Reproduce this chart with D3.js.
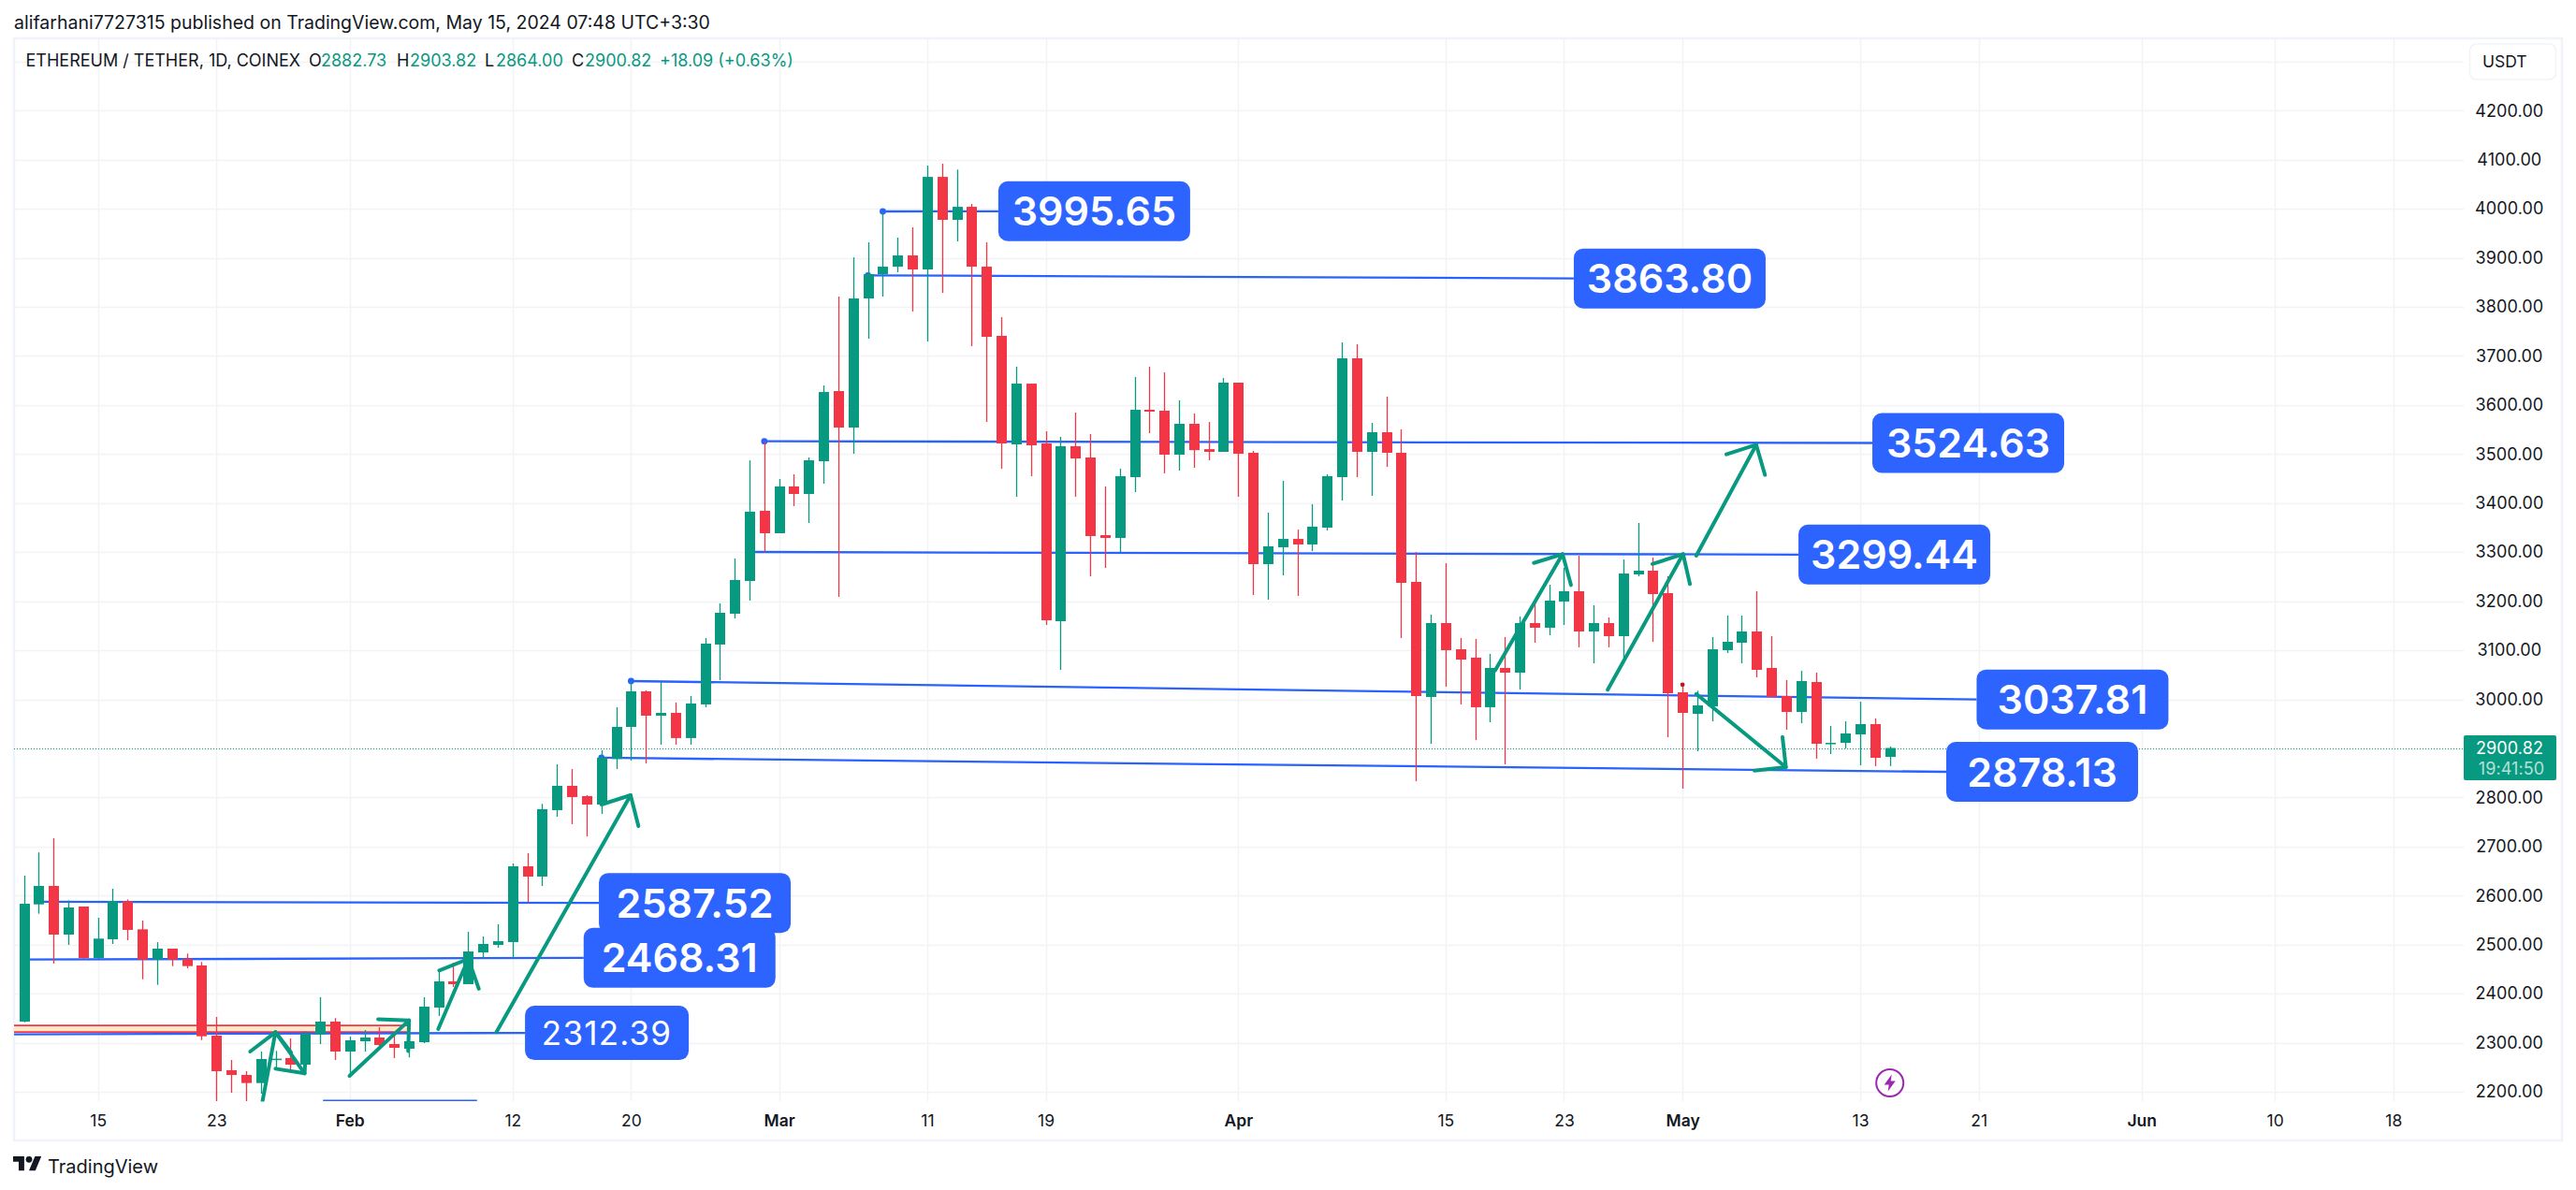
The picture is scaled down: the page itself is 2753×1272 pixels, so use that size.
<!DOCTYPE html>
<html>
<head>
<meta charset="utf-8">
<script src="https://cdn.jsdelivr.net/npm/d3@7/dist/d3.min.js"></script>
<style>
  html, body { margin: 0; padding: 0; background: #fff; }
  svg { display: block; }
  text { font-family: Inter, "Noto Sans", sans-serif; }
</style>
</head>
<body>
<div id="chart"></div>
<script>
// daily candles, first one is Jan 10 2024
const firstDay = '2024-01-10';
const opens = [2343,2582,2619.6,2520.4,2577.6,2472.7,2510.9,2588.4,2531.2,2469.6,2491.8,2470.8,2457.5,2314.4,2244,2234.3,2217.8,2266.5,2268.7,2255.3,2317,2343,2282,2303,2310.6,2297.3,2287.7,2301,2371.6,2425,2419.3,2484,2499.4,2505.2,2659.6,2638.7,2774,2823.7,2802.7,2785.5,2878.4,2943.8,3016.3,2966.7,2972.4,2921,2989.6,3111.7,3174.6,3241.3,3384.4,3338.6,3434,3418.6,3485.3,3628.4,3554,3817.2,3866.8,3882,3904.9,3876.3,4065,3977.4,4004,3882,3741,3519.7,3643.6,3521.6,3159.3,3516,3493,3334.7,3329,3453,3590.3,3588.4,3498.8,3561.7,3510,3504.5,3645.6,3502.6,3275.6,3310,3327,3315.7,3350,3453,3695.2,3504.5,3544.5,3502.6,3239.4,3004.8,3155.5,3102,3085,2983.9,3064,3054.4,3155.5,3146,3199.4,3220.3,3138.3,3155.5,3128.8,3254.6,3262.3,3216.5,3014.3,2970.5,2985.7,3100.2,3115.4,3138.3,3063.9,3006.7,2974.3,3035.3,2909.4,2911.3,2928.5,2949.5,2882.73];
const highs = [2640.5,2688,2716.8,2590,2577.6,2554.7,2613.9,2592,2549,2505,2491.8,2482,2464.5,2352.6,2264.8,2242,2282,2283.3,2308.7,2323.3,2392.6,2350,2312.5,2325.9,2331.6,2315,2320,2392.6,2448,2463,2526,2516.6,2541.4,2665.4,2686.3,2787,2867.5,2858,2804.6,2896,2983.9,3037,3018.2,3035.4,2993.4,3006.8,3125,3195.6,3287,3487,3525,3449.2,3458.7,3493,3639.8,3821,3901,3931.6,3994.6,3941,3962,4088,4091.8,4080,4009.8,3931.6,3779,3678,3643.6,3546.4,3535,3584.6,3540.7,3434,3470,3657,3678,3666.6,3609.4,3582.7,3565.5,3655,3645.6,3506.4,3380.5,3445.4,3346,3397.7,3458.7,3727.6,3723.8,3563.6,3617,3550.2,3300.4,3172.6,3277.5,3125,3123,3092.5,3127,3168.8,3197.4,3233.7,3268,3292.8,3191.7,3167,3285,3359.5,3289,3250.8,3033.4,3017.5,3126.9,3170.7,3170.7,3220.3,3128.8,3039.1,3058,3054.4,2945.7,2955.2,2995.3,2961,2903.82];
const lows = [2341.8,2563,2461.3,2499.4,2470.8,2470.8,2501.3,2509,2429.5,2418,2456,2451.8,2305.5,2181,2198,2181,2196,2248,2238.8,2248,2297.3,2265,2232.4,2282,2289.6,2268.7,2270,2299.2,2354.5,2413.6,2419.3,2472.7,2493.7,2472.7,2585.3,2619.6,2760.7,2745.5,2720.7,2766.5,2858,2875.2,2869.5,2907.6,2907.6,2907.6,2983.9,3039.2,3165,3201.3,3300.5,3338.6,3393.9,3359.5,3439.6,3209,3500.6,3735.2,3821,3870.6,3790.5,3729.5,3828.6,3933.5,3720,3565.5,3470,3413,3454.9,3151.7,3060,3413,3250.8,3268,3300.4,3422.5,3542.6,3460.6,3466.3,3472,3487.3,3504.5,3413,3212.7,3203.2,3252.7,3210.8,3302.3,3344.3,3405.3,3453,3414.8,3474,3125,2833,2909.5,3025.8,2989.5,2917,2953.3,2867.5,3020,3115.4,3130.7,3151.7,3106,3073.5,3106,3081,3250.8,3117.3,2922.8,2817.9,2894.2,2955.2,3094.4,3073.5,3044.8,3004.8,2938,2951.4,2879,2888.5,2900,2865.6,2863.7,2864];
const closes = [2583.3,2619.6,2520.4,2575.7,2472.7,2512.2,2588.4,2530,2469.6,2491.8,2469.6,2456.2,2313.2,2242,2234.3,2217.8,2266.8,2267.4,2255.3,2318.2,2343,2282,2304.9,2310.6,2295.4,2289.6,2303,2373.6,2425,2419.3,2486,2501.3,2507,2659.6,2638.7,2776,2823.7,2800.8,2785.5,2880.9,2943.8,3016.3,2966.7,2972.4,2921,2991.5,3113.6,3176.5,3243.3,3382.5,3338.6,3434,3418.7,3487.3,3626.5,3554,3817.2,3866.8,3882,3904.9,3876.3,4065,3977.4,4004,3882,3739,3521.6,3643.6,3517.8,3161.2,3516,3491,3332.8,3329,3454.9,3590.3,3586.5,3498.8,3561.7,3508,3504.5,3645.6,3500.7,3275.6,3311.9,3327,3315.7,3352,3454.9,3695.2,3504.5,3544.5,3502.6,3237.5,3006.7,3155.5,3100.2,3081,2983.9,3064,3054.4,3155.5,3146,3201.3,3220.3,3138.3,3155.5,3128.8,3256.5,3262.3,3214.6,3012.4,2972.4,2987.6,3102,3117.3,3138.3,3060.1,3004.8,2974.3,3037.2,2909.4,2911.3,2930.4,2949.5,2880.8,2900.82];

const priceTicks = [4300,4200,4100,4000,3900,3800,3700,3600,3500,3400,3300,3200,3100,3000,2900,2800,2700,2600,2500,2400,2300,2200];
const timeTicks = ['2024-01-15','2024-01-23','2024-02-01','2024-02-12','2024-02-20','2024-03-01','2024-03-11','2024-03-19','2024-04-01','2024-04-15','2024-04-23','2024-05-01','2024-05-13','2024-05-21','2024-06-01','2024-06-10','2024-06-18'];
const timeTickLabels = ['15','23','Feb','12','20','Mar','11','19','Apr','15','23','May','13','21','Jun','10','18'];

// drawn levels: [start day index, start price, end day index, end price]
const levelNames = ['3995.65','3863.80','3524.63','3299.44','3037.81','2878.13','2587.52','2468.31','2312.39'];
const levelLines = [
  [58,3994.6,65.8,3995],
  [57,3864.3,104.66,3858],
  [50,3526,124.82,3522.6],
  [49.3,3300.4,119.83,3295],
  [41,3037.2,131.86,2999.7],
  [39,2880.9,129.81,2852.2],
  [1,2587.2,38.83,2585],
  [0,2469.5,37.8,2473],
  [-0.66,2317,33.84,2320]
];
const levelDots = [[58,3994.6],[57,3864.3],[50,3526],[41,3037.2],[39,2880.9]];

// arrows: shaft start, tip, wing, wing as [day index, price]
const arrows = [
  [[16.12,2181.6],[16.99,2321.5],[15.28,2282],[18.04,2280]],
  [[16.99,2321.5],[18.96,2237.5],[16.99,2247],[19.02,2277]],
  [[21.99,2232.4],[26.01,2345.6],[23.92,2348],[25.95,2283]],
  [[27.98,2327.8],[30.01,2470.8],[28.05,2447.4],[30.72,2410]],
  [[31.91,2321.5],[40.97,2804.6],[39,2785.5],[41.5,2741.7]],
  [[99.34,3058.8],[103.9,3296],[101.96,3278],[104.47,3233]],
  [[106.95,3019.5],[112.04,3296],[109.97,3276],[112.5,3235]],
  [[112.93,3292.8],[116.98,3518.9],[114.96,3499.3],[117.57,3457.4]],
  [[112.93,3011],[118.98,2861.8],[116.85,2854.8],[118.75,2923.4]]
];

const zonePrices = [2335,2321.8];
const zoneEndDay = 25.9;
const stubLine = [20.2,2182.3,30.6,2182.3];
const redDot = [112,3030];
const lastPrice = 2900.82;

const headerText = 'alifarhani7727315 published on TradingView.com, May 15, 2024 07:48 UTC+3:30';
const legendParts = [
  ['ETHEREUM / TETHER, 1D, COINEX', 27.5, 'ink'],
  ['O', 330, 'ink'], ['2882.73', 343, 'up'],
  ['H', 424, 'ink'], ['2903.82', 438, 'up'],
  ['L', 518, 'ink'], ['2864.00', 530, 'up'],
  ['C', 611, 'ink'], ['2900.82', 625, 'up'],
  ['+18.09 (+0.63%)', 705, 'up']
];

const width = 2753, height = 1272;
const plot = {left: 15, right: 2633, top: 41, bottom: 1177};
const up = '#089981', down = '#f23645', blue = '#2962ff', ink = '#131722', grid = '#f2f3f7', frame = '#f0f3fa';

const dayMs = 864e5;
const t0 = Date.parse(firstDay);
const dayDate = i => new Date(t0 + i * dayMs);

const x = d3.scaleUtc().domain([new Date(firstDay), new Date('2024-06-18')]).range([25.5, 2557.8]);
const y = d3.scaleLinear().domain([2200, 4200]).range([1167, 118.3]);
const xd = i => x(dayDate(i));

const svg = d3.select('#chart').append('svg').attr('width', width).attr('height', height);
svg.append('rect').attr('width', width).attr('height', height).attr('fill', '#fff');

svg.append('defs').append('clipPath').attr('id', 'plot-clip').append('rect')
  .attr('x', plot.left).attr('y', plot.top)
  .attr('width', plot.right - plot.left).attr('height', plot.bottom - plot.top + 0.5);

// outer frame
svg.append('rect')
  .attr('x', 15).attr('y', 41).attr('width', 2723).attr('height', 1178)
  .attr('fill', 'none').attr('stroke', frame).attr('stroke-width', 2.5);

// header
svg.append('text').attr('x', 15).attr('y', 24).attr('dy', '0.36em')
  .attr('font-size', 19.5).attr('fill', ink).text(headerText);

// grid
const gridG = svg.append('g').attr('clip-path', 'url(#plot-clip)');
gridG.selectAll('line.h').data(priceTicks).enter().append('line')
  .attr('class', 'h')
  .attr('x1', plot.left).attr('x2', plot.right)
  .attr('y1', d => Math.round(y(d)) + 0.5).attr('y2', d => Math.round(y(d)) + 0.5)
  .attr('stroke', grid).attr('stroke-width', 1.5);
gridG.selectAll('line.v').data(timeTicks).enter().append('line')
  .attr('class', 'v')
  .attr('x1', d => Math.round(x(new Date(d))) + 0.5).attr('x2', d => Math.round(x(new Date(d))) + 0.5)
  .attr('y1', plot.top).attr('y2', plot.bottom)
  .attr('stroke', grid).attr('stroke-width', 1.5);

// axes, labels only
const yAxis = d3.axisRight(y).tickValues(priceTicks.filter(d => d < 4300))
  .tickSize(0).tickPadding(0).tickFormat(d => d.toFixed(2));
const yG = svg.append('g').attr('transform', 'translate(2681.8,0)').call(yAxis);
yG.select('.domain').remove();
yG.selectAll('text').attr('text-anchor', 'middle').attr('font-size', 18).attr('fill', ink)
  .attr('font-family', 'Inter').attr('letter-spacing', 0.1);

const xAxis = d3.axisBottom(x).tickValues(timeTicks.map(d => new Date(d)))
  .tickSize(0).tickPadding(0).tickFormat((d, i) => timeTickLabels[i]);
const xG = svg.append('g').attr('transform', 'translate(0,1192)').call(xAxis);
xG.select('.domain').remove();
xG.selectAll('text').attr('font-size', 17.5).attr('fill', ink).attr('font-family', 'Inter')
  .attr('font-weight', (d, i) => isNaN(+timeTickLabels[i]) ? 600 : 400);

const chart = svg.append('g').attr('clip-path', 'url(#plot-clip)');

// orange zone
chart.append('rect')
  .attr('x', plot.left).attr('width', xd(zoneEndDay) - plot.left)
  .attr('y', y(zonePrices[0])).attr('height', y(zonePrices[1]) - y(zonePrices[0]))
  .attr('fill', '#ffe8c8');
chart.selectAll('line.zone').data(zonePrices).enter().append('line')
  .attr('class', 'zone')
  .attr('x1', plot.left).attr('x2', xd(zoneEndDay))
  .attr('y1', d => y(d)).attr('y2', d => y(d))
  .attr('stroke', down).attr('stroke-width', 1.8);

// level lines go under the candles
chart.selectAll('line.level').data(levelLines).enter().append('line')
  .attr('class', 'level')
  .attr('x1', d => xd(d[0])).attr('y1', d => y(d[1]))
  .attr('x2', d => xd(d[2])).attr('y2', d => y(d[3]))
  .attr('stroke', blue).attr('stroke-width', 2.3);
chart.append('line')
  .attr('x1', xd(stubLine[0])).attr('y1', y(stubLine[1]))
  .attr('x2', xd(stubLine[2])).attr('y2', y(stubLine[3]))
  .attr('stroke', blue).attr('stroke-width', 1.6);

// last price dotted line
chart.append('line')
  .attr('x1', plot.left).attr('x2', plot.right)
  .attr('y1', Math.round(y(lastPrice)) + 0.5).attr('y2', Math.round(y(lastPrice)) + 0.5)
  .attr('stroke', up).attr('stroke-width', 1).attr('stroke-dasharray', '1 2');

chart.selectAll('circle.dot').data(levelDots).enter().append('circle')
  .attr('class', 'dot')
  .attr('cx', d => xd(d[0])).attr('cy', d => y(d[1])).attr('r', 3.4)
  .attr('fill', blue);

// candles
const candles = chart.selectAll('g.candle').data(opens).enter().append('g').attr('class', 'candle');
const candleColor = (d, i) => closes[i] >= d ? up : down;
candles.append('line')
  .attr('x1', (d, i) => Math.round(xd(i)) + 0.5).attr('x2', (d, i) => Math.round(xd(i)) + 0.5)
  .attr('y1', (d, i) => y(highs[i])).attr('y2', (d, i) => y(lows[i]))
  .attr('stroke', candleColor).attr('stroke-width', 1.3);
candles.append('rect')
  .attr('x', (d, i) => Math.round(xd(i)) - 5)
  .attr('width', 11)
  .attr('y', (d, i) => y(Math.max(d, closes[i])))
  .attr('height', (d, i) => Math.max(1.5, Math.abs(y(d) - y(closes[i]))))
  .attr('fill', candleColor);

chart.append('circle')
  .attr('cx', xd(redDot[0])).attr('cy', y(redDot[1])).attr('r', 2.4).attr('fill', '#b71c1c');

// arrows on top of the candles
const arrowLine = d3.line().x(d => xd(d[0])).y(d => y(d[1]));
const arrowG = chart.append('g')
  .attr('fill', 'none').attr('stroke', up).attr('stroke-width', 4)
  .attr('stroke-linecap', 'round').attr('stroke-linejoin', 'round');
arrows.forEach(a => {
  arrowG.append('path').attr('d', arrowLine([a[0], a[1]]));
  arrowG.append('path').attr('d', arrowLine([a[2], a[1], a[3]]));
});

// value labels at the end of each level line
const boxW = i => i === 8 ? 175 : 205;
const boxH = i => i === 8 ? 58 : 64;
const labels = svg.selectAll('g.level-label').data(levelNames).enter().append('g')
  .attr('class', 'level-label')
  .attr('transform', (d, i) => `translate(${xd(levelLines[i][2])},${y(levelLines[i][3])})`);
labels.append('rect')
  .attr('y', (d, i) => -boxH(i) / 2)
  .attr('width', (d, i) => boxW(i)).attr('height', (d, i) => boxH(i))
  .attr('rx', 10).attr('fill', '#2d64ff');
labels.append('text')
  .attr('x', (d, i) => boxW(i) / 2).attr('dy', '0.36em')
  .attr('text-anchor', 'middle').attr('fill', '#fff')
  .attr('font-size', (d, i) => i === 8 ? 35 : 43)
  .attr('font-weight', (d, i) => i === 8 ? 400 : 600)
  .attr('letter-spacing', (d, i) => i === 8 ? 1.2 : 0)
  .text(d => d);

// legend line
const legend = svg.append('g').attr('font-size', 18);
legendParts.forEach(p => {
  legend.append('text').attr('x', p[1]).attr('y', 65).attr('dy', '0.36em')
    .attr('fill', p[2] === 'up' ? up : ink).text(p[0]);
});

// currency box
svg.append('rect').attr('x', 2639.5).attr('y', 47).attr('width', 92).attr('height', 38)
  .attr('rx', 7).attr('fill', '#fff').attr('stroke', frame).attr('stroke-width', 1.5);
svg.append('text').attr('x', 2653).attr('y', 65.5).attr('dy', '0.36em')
  .attr('font-size', 17.5).attr('fill', ink).text('USDT');

// last price tag
const tagY = y(lastPrice);
svg.append('rect').attr('x', plot.right).attr('y', tagY - 13.5).attr('width', 99).attr('height', 48)
  .attr('rx', 2).attr('fill', up);
svg.append('text').attr('x', 2682).attr('y', tagY).attr('dy', '0.36em').attr('text-anchor', 'middle')
  .attr('font-size', 18).attr('letter-spacing', 0.1).attr('fill', '#fff').text(lastPrice.toFixed(2));
svg.append('text').attr('x', 2684).attr('y', tagY + 21.5).attr('dy', '0.36em').attr('text-anchor', 'middle')
  .attr('font-size', 18).attr('letter-spacing', 0.1).attr('fill', '#b5e0d8').text('19:41:50');

// lightning badge under the last candle
const bolt = svg.append('g').attr('transform', `translate(${xd(opens.length - 1)},${y(2218)})`);
bolt.append('circle').attr('r', 14.5).attr('fill', '#fff').attr('stroke', '#9c27b0').attr('stroke-width', 2);
bolt.append('path').attr('d', 'M2 -9 L-6 2 L-1 2 L-2 9 L6 -2 L1 -2 Z').attr('fill', '#9c27b0');

// footer logo
const logo = svg.append('g').attr('transform', 'translate(14,1232.5) scale(0.85)').attr('fill', ink);
logo.append('path').attr('d', 'M14 22H7V11H0V4h14v18zM28 22h-8l7.5-18h8L28 22z');
logo.append('circle').attr('cx', 20).attr('cy', 8).attr('r', 4);
svg.append('text').attr('x', 51).attr('y', 1247).attr('dy', '0.36em')
  .attr('font-size', 20).attr('fill', ink).text('TradingView');
</script>
</body>
</html>
